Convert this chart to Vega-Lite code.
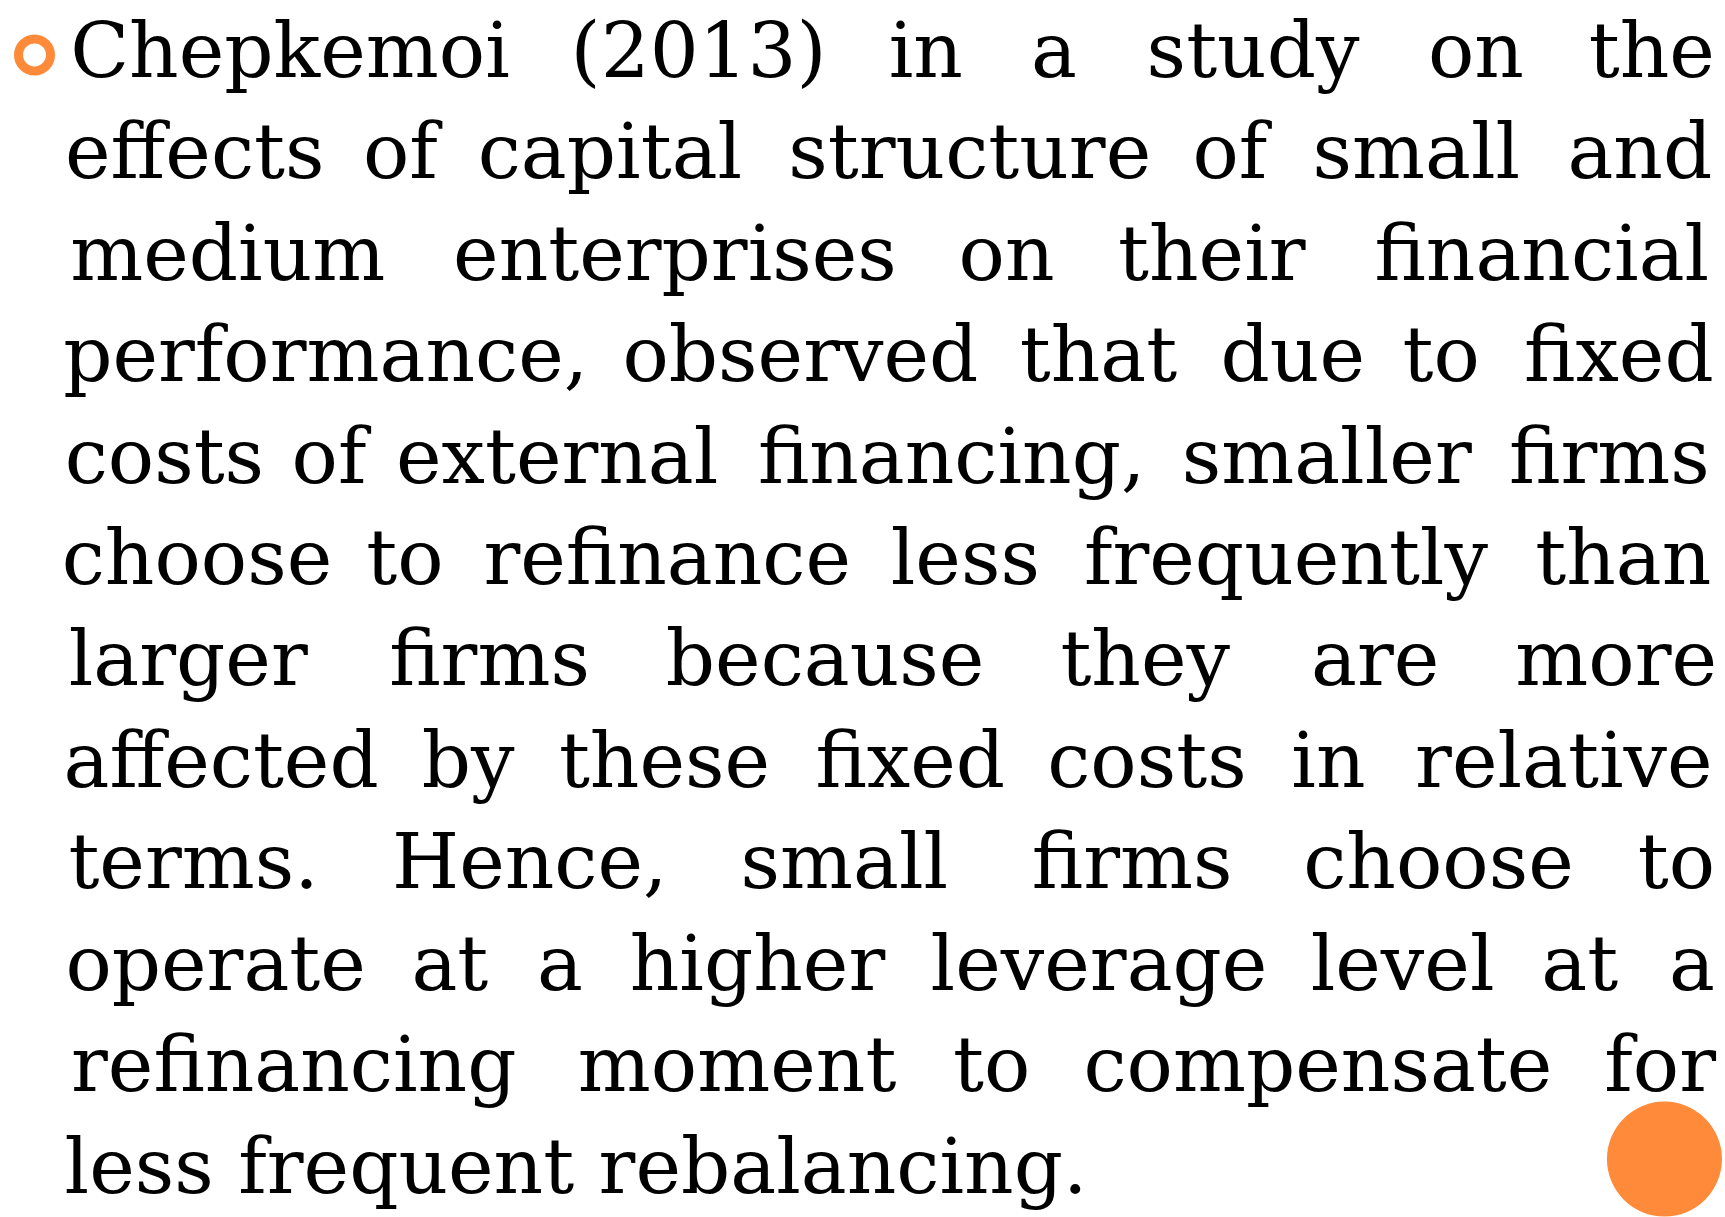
{
  "$schema": "https://vega.github.io/schema/vega-lite/v6.json",
  "width": 1725,
  "height": 1217,
  "autosize": {"type": "fit", "contains": "padding"},
  "padding": 0,
  "background": "white",
  "config": {"view": {"stroke": null}},
  "datasets": {
    "words": [
      {"line": 1, "pos": 16.81, "word": "Chepkemoi"},
      {"line": 1, "pos": 40.50, "word": "(2013)"},
      {"line": 1, "pos": 53.67, "word": "in"},
      {"line": 1, "pos": 61.10, "word": "a"},
      {"line": 1, "pos": 72.64, "word": "study"},
      {"line": 1, "pos": 85.56, "word": "on"},
      {"line": 1, "pos": 95.76, "word": "the"},
      {"line": 2, "pos": 11.29, "word": "effects"},
      {"line": 2, "pos": 23.21, "word": "of"},
      {"line": 2, "pos": 35.36, "word": "capital"},
      {"line": 2, "pos": 56.22, "word": "structure"},
      {"line": 2, "pos": 71.30, "word": "of"},
      {"line": 2, "pos": 82.11, "word": "small"},
      {"line": 2, "pos": 95.06, "word": "and"},
      {"line": 3, "pos": 13.20, "word": "medium"},
      {"line": 3, "pos": 39.13, "word": "enterprises"},
      {"line": 3, "pos": 58.35, "word": "on"},
      {"line": 3, "pos": 70.25, "word": "their"},
      {"line": 3, "pos": 89.38, "word": "financial"},
      {"line": 4, "pos": 18.88, "word": "performance,"},
      {"line": 4, "pos": 46.40, "word": "observed"},
      {"line": 4, "pos": 63.68, "word": "that"},
      {"line": 4, "pos": 74.94, "word": "due"},
      {"line": 4, "pos": 83.55, "word": "to"},
      {"line": 4, "pos": 93.85, "word": "fixed"},
      {"line": 5, "pos": 9.53, "word": "costs"},
      {"line": 5, "pos": 19.07, "word": "of"},
      {"line": 5, "pos": 32.30, "word": "external"},
      {"line": 5, "pos": 55.17, "word": "financing,"},
      {"line": 5, "pos": 76.91, "word": "smaller"},
      {"line": 5, "pos": 93.30, "word": "firms"},
      {"line": 6, "pos": 11.42, "word": "choose"},
      {"line": 6, "pos": 23.47, "word": "to"},
      {"line": 6, "pos": 38.68, "word": "refinance"},
      {"line": 6, "pos": 55.96, "word": "less"},
      {"line": 6, "pos": 74.55, "word": "frequently"},
      {"line": 6, "pos": 94.10, "word": "than"},
      {"line": 7, "pos": 10.91, "word": "larger"},
      {"line": 7, "pos": 28.38, "word": "firms"},
      {"line": 7, "pos": 47.83, "word": "because"},
      {"line": 7, "pos": 66.39, "word": "they"},
      {"line": 7, "pos": 79.72, "word": "are"},
      {"line": 7, "pos": 93.69, "word": "more"},
      {"line": 8, "pos": 12.82, "word": "affected"},
      {"line": 8, "pos": 27.14, "word": "by"},
      {"line": 8, "pos": 38.52, "word": "these"},
      {"line": 8, "pos": 52.77, "word": "fixed"},
      {"line": 8, "pos": 66.49, "word": "costs"},
      {"line": 8, "pos": 77.01, "word": "in"},
      {"line": 8, "pos": 90.66, "word": "relative"},
      {"line": 9, "pos": 11.22, "word": "terms."},
      {"line": 9, "pos": 30.71, "word": "Hence,"},
      {"line": 9, "pos": 48.95, "word": "small"},
      {"line": 9, "pos": 65.63, "word": "firms"},
      {"line": 9, "pos": 83.39, "word": "choose"},
      {"line": 9, "pos": 97.19, "word": "to"},
      {"line": 10, "pos": 12.50, "word": "operate"},
      {"line": 10, "pos": 26.08, "word": "at"},
      {"line": 10, "pos": 32.46, "word": "a"},
      {"line": 10, "pos": 43.91, "word": "higher"},
      {"line": 10, "pos": 63.71, "word": "leverage"},
      {"line": 10, "pos": 81.31, "word": "level"},
      {"line": 10, "pos": 91.58, "word": "at"},
      {"line": 10, "pos": 98.09, "word": "a"},
      {"line": 11, "pos": 17.03, "word": "refinancing"},
      {"line": 11, "pos": 42.73, "word": "moment"},
      {"line": 11, "pos": 57.49, "word": "to"},
      {"line": 11, "pos": 76.40, "word": "compensate"},
      {"line": 11, "pos": 96.24, "word": "for"},
      {"line": 12, "pos": 33.39, "word": "less frequent rebalancing."}
    ],
    "bullet": [{"line": 1, "pos": 2.0}],
    "corner": [{"line": 11.67, "pos": 96.49}]
  },
  "layer": [
    {
      "data": {"name": "corner"},
      "mark": {"type": "point", "shape": "circle", "filled": true, "size": 13225, "color": "#FF8A3A", "opacity": 1, "strokeWidth": 0},
      "encoding": {
        "x": {"field": "pos", "type": "quantitative", "scale": {"domain": [0, 100], "nice": false, "zero": false}, "axis": null},
        "y": {"field": "line", "type": "quantitative", "scale": {"domain": [0.2414, 12.2315], "nice": false, "zero": false, "reverse": true}, "axis": null}
      }
    },
    {
      "data": {"name": "bullet"},
      "mark": {"type": "point", "shape": "circle", "filled": false, "size": 1024, "stroke": "#FF8A3A", "strokeWidth": 9, "opacity": 1, "yOffset": -22},
      "encoding": {
        "x": {"field": "pos", "type": "quantitative", "axis": null},
        "y": {"field": "line", "type": "quantitative", "axis": null}
      }
    },
    {
      "data": {"name": "words"},
      "mark": {"type": "text", "font": "DejaVu Serif", "fontSize": 77, "align": "center", "baseline": "alphabetic", "color": "#000000"},
      "encoding": {
        "x": {"field": "pos", "type": "quantitative", "axis": null},
        "y": {"field": "line", "type": "quantitative", "axis": null},
        "text": {"field": "word", "type": "nominal"}
      }
    }
  ]
}
